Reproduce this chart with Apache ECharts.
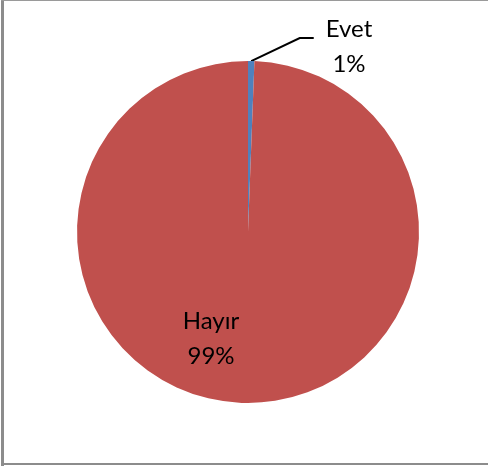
<!DOCTYPE html>
<html><head><meta charset="utf-8">
<script src="https://cdn.jsdelivr.net/npm/echarts@6/dist/echarts.min.js"></script>
<style>
html,body{margin:0;padding:0;background:#fff;}
#frame{position:absolute;left:0;top:0;width:488px;height:468px;}
#bl{position:absolute;left:1px;top:0;width:3px;height:466px;background:#8c8c8c;}
#bt{position:absolute;left:1px;top:0;width:487px;height:1px;background:#9a9a9a;}
#bb{position:absolute;left:1px;top:463px;width:487px;height:2px;background:#8c8c8c;}
#chart{position:absolute;left:0;top:0;width:488px;height:468px;}
</style></head>
<body>
<div id="frame"><div id="chart"></div><div id="bl"></div><div id="bt"></div><div id="bb"></div></div>
<script>
const categories = ["Evet", "Hayır"];
const values = [0.6, 99.4];
const colors = ["#4F81BD", "#C0504D"];

const chart = echarts.init(document.getElementById('chart'), null, {renderer:'canvas'});
const total = values.reduce((a,b)=>a+b,0);
chart.setOption({
  animation:false,
  backgroundColor:'transparent',
  series:[{
    type:'pie',
    center:[248,232],
    radius:[0,171],
    startAngle:90,
    clockwise:true,
    avoidLabelOverlap:false,
    data: categories.map((c,i)=>({
      name:c, value:values[i],
      itemStyle:{color:colors[i], borderWidth:0},
      label: i===0 ? {position:'outside', padding:[18,12,0,12]} : {position:'inside'},
      labelLine: i===0 ? {show:true, length:18, length2:14, lineStyle:{color:'#000', width:2}} : {show:false}
    })),
    label:{
      show:true,
      formatter: p => p.name + '\n' + Math.round(p.value/total*100) + '%',
      fontFamily:'Lato',
      fontSize:24,
      lineHeight:35,
      color:'#000',
      align:'center'
    },
    labelLayout: function(p){
      if (p.dataIndex === 1) return {x:211, y:339, align:'center', verticalAlign:'middle'};
      return {x:349, y:-6, align:'center', verticalAlign:'top'};
    }
  }]
});
</script>
</body></html>
